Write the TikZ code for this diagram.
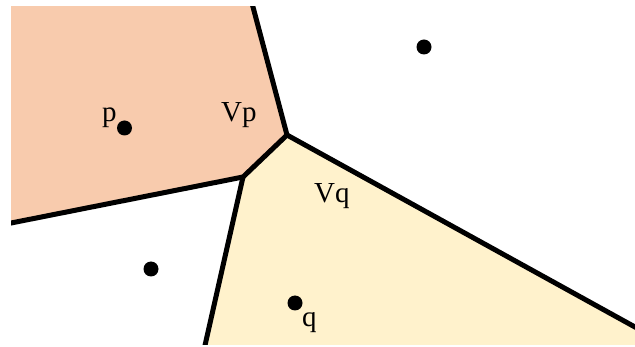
\documentclass[tikz,border=0pt]{standalone}
\usepackage{fontspec}
\setmainfont{Liberation Serif}
\definecolor{cellp}{HTML}{F8CBAD}
\definecolor{cellq}{HTML}{FFF2CC}
\begin{document}
\begin{tikzpicture}[x=1pt,y=-1pt,
  edge/.style={line width=5pt,line join=round},
  site/.style={circle,fill=black,inner sep=0pt,minimum size=15pt},
  lbl/.style={anchor=base west,inner sep=0pt,font=\fontsize{29}{34}\selectfont}]
\useasboundingbox (0,0) rectangle (635,347);
\coordinate (A) at (287,135);
\coordinate (B) at (243,177);
\coordinate (T) at (248.5,-10);
\coordinate (L) at (0,225.2);
\coordinate (D) at (201.7,360);
\coordinate (R) at (650,335.3);
\begin{scope}
\clip (11,7) rectangle (640,345);
\fill[cellp] (0,-10) -- (T) -- (A) -- (B) -- (L) -- cycle;
\fill[cellq] (B) -- (A) -- (R) -- (650,360) -- (D) -- cycle;
\draw[edge] (T) -- (A) -- (B) -- (L);
\draw[edge] (A) -- (R);
\draw[edge] (B) -- (D);
\end{scope}
\node[site] (p) at (124.5,128) {};
\node[site] (q) at (295,303) {};
\node[site] (s1) at (424,47) {};
\node[site] (s2) at (151,269) {};
\node[lbl] (lp) at (102,122) {p};
\node[lbl] (lvp) at (221,122) {Vp};
\node[lbl] (lvq) at (314,203) {Vq};
\node[lbl] (lq) at (302,327) {q};
\end{tikzpicture}
\end{document}
